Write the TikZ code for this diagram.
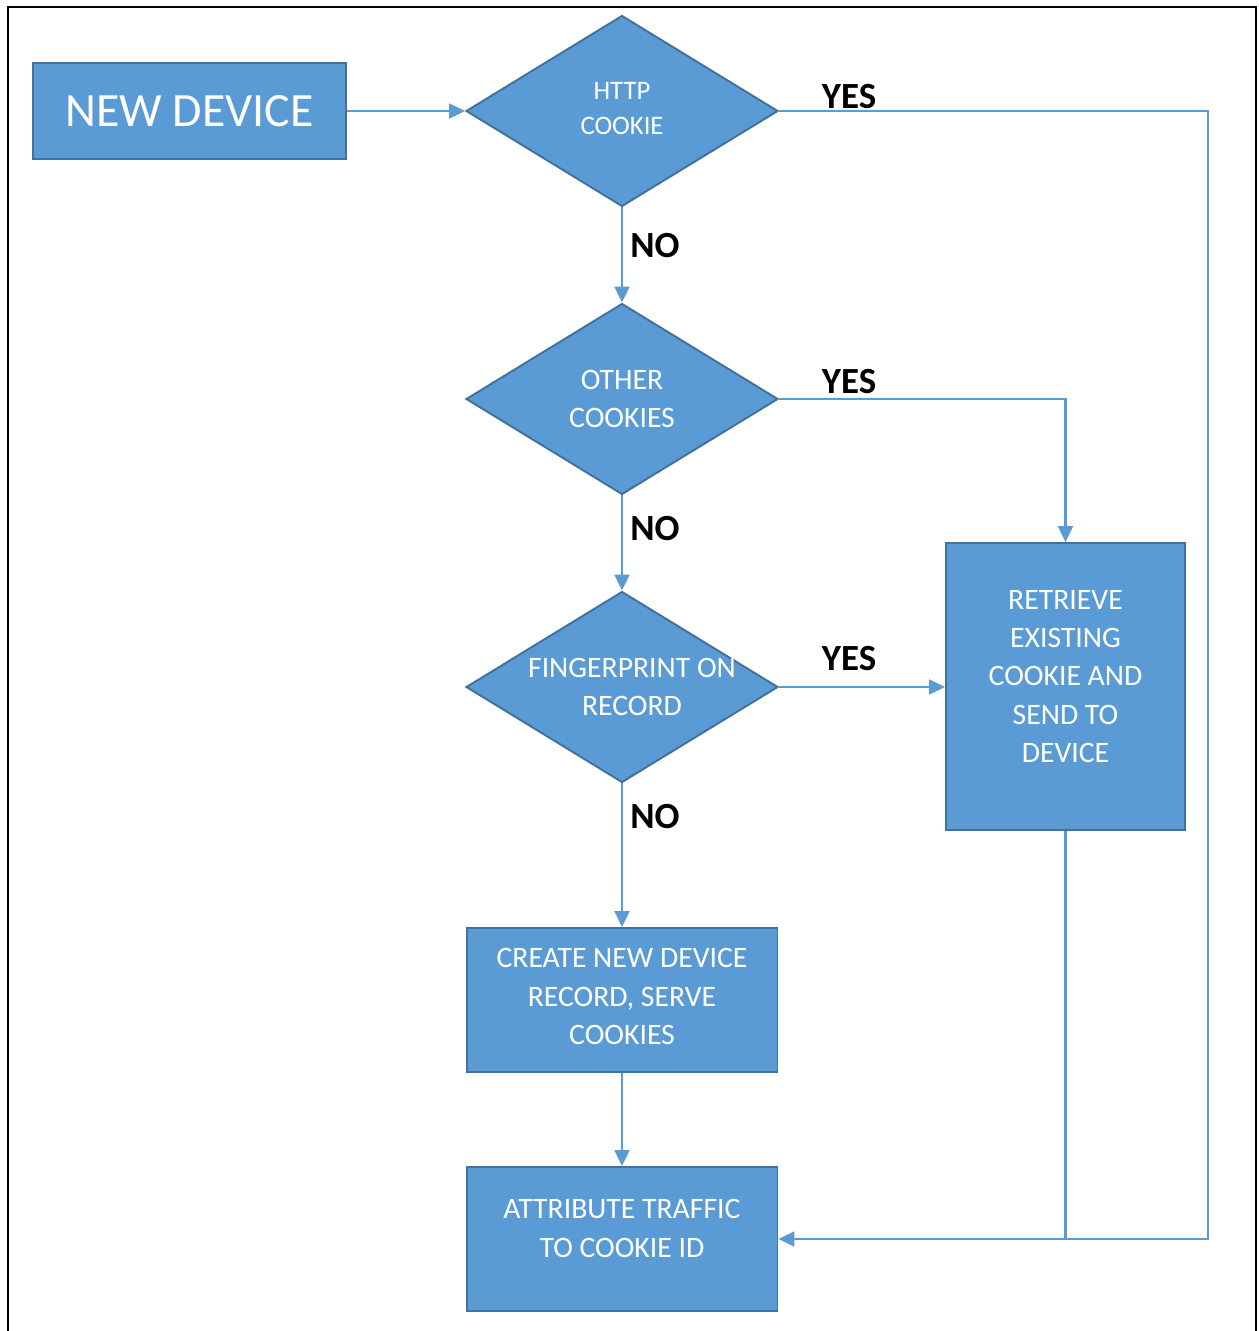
\documentclass[tikz,border=0pt]{standalone}
\usepackage{fontspec}
\setmainfont{Carlito}
\usetikzlibrary{shapes.geometric,arrows.meta}
\definecolor{boxblue}{HTML}{5B9BD5}
\definecolor{edgeblue}{HTML}{41719C}

\begin{document}
\begin{tikzpicture}[x = 0.02cm, y = -0.02cm,
    box/.style = {draw = edgeblue, line width = 1.1pt, fill = boxblue, inner sep = 0pt},
    decision/.style = {box, diamond, minimum width = 6.24cm, minimum height = 3.82cm},
    txt/.style = {text = white, align = center, inner sep = 0pt, font = \fontsize{16.9}{21.8}\selectfont},
    answer/.style = {inner sep = 0pt, font = \bfseries\fontsize{21}{25}\selectfont},
    flow/.style = {draw = boxblue, line width = 1.2pt, -{Triangle[length = 0.32cm, width = 0.3cm]}}]

  \useasboundingbox (0,0) rectangle (1258,1331);
  \draw [line width = 1pt] (8,1331) -- (8,7) -- (1256,7) -- (1256,1331);

  % boxes and decisions
  \node [box, minimum width = 6.26cm, minimum height = 1.92cm,
         label = {[txt, font = \fontsize{27.2}{32}\selectfont]center:NEW DEVICE}] (newdev) at (189.5,111) {};
  \node [decision, label = {[txt, font = \fontsize{15.2}{19.8}\selectfont, yshift = 0.05cm]center:HTTP\\COOKIE}] (http) at (622,111) {};
  \node [decision, label = {[txt]center:OTHER\\COOKIES}] (other) at (622,399) {};
  \node [decision, label = {[txt, xshift = 0.2cm]center:FINGERPRINT ON\\RECORD}] (fp) at (622,687) {};
  \node [box, minimum width = 4.78cm, minimum height = 5.74cm,
         label = {[txt, yshift = 0.2cm]center:RETRIEVE\\EXISTING\\COOKIE AND\\SEND TO\\DEVICE}] (retr) at (1065.5,686.5) {};
  \node [box, minimum width = 6.22cm, minimum height = 2.88cm,
         label = {[txt, yshift = 0.07cm]center:CREATE NEW DEVICE\\RECORD, SERVE\\COOKIES}] (create) at (622,1000) {};
  \node [box, minimum width = 6.22cm, minimum height = 2.88cm,
         label = {[txt, yshift = 0.21cm]center:ATTRIBUTE TRAFFIC\\TO COOKIE ID}] (attr) at (622,1239) {};

  % answers
  \node [answer] (yes1) at (849,97) {YES};
  \node [answer] (yes2) at (849,382) {YES};
  \node [answer] (yes3) at (849,659) {YES};
  \node [answer] (no1) at (655,246) {NO};
  \node [answer] (no2) at (655,529) {NO};
  \node [answer] (no3) at (655,817) {NO};

  % connectors
  \coordinate (rail) at (1208,111);
  \draw [flow] (newdev.east) -- (http.west);
  \draw [flow] (http.south) -- (other.north);
  \draw [flow] (other.south) -- (fp.north);
  \draw [flow] (fp.south) -- (create.north);
  \draw [flow] (create.south) -- (attr.north);
  \draw [flow] (other.east) -| (retr.north);
  \draw [flow] (fp.east) -- (fp.east -| retr.west);
  \draw [flow] (http.east) -- (rail) |- (attr.east);
  \draw [draw = boxblue, line width = 1.2pt] (retr.south) -- (retr.south |- attr.east);

\end{tikzpicture}
\end{document}
